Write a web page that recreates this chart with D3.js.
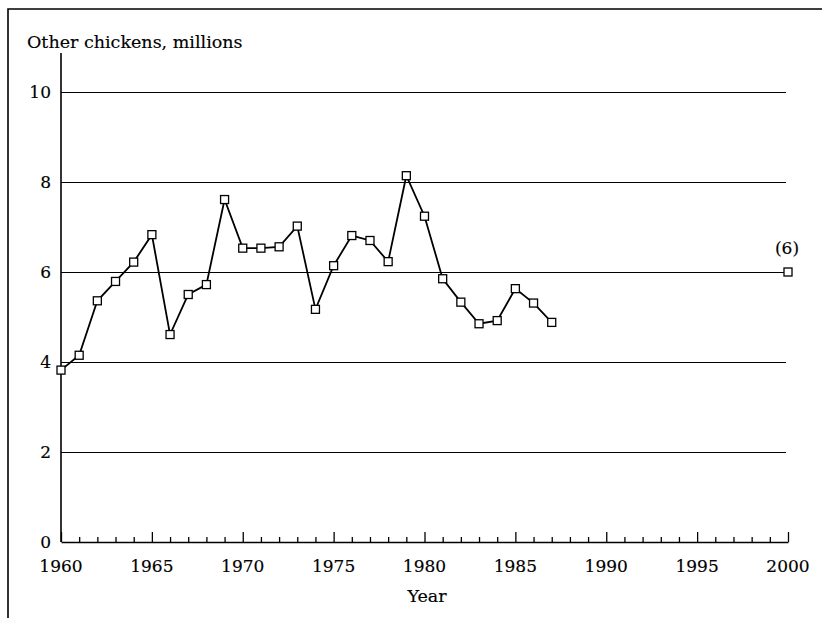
<!DOCTYPE html>
<html>
<head>
<meta charset="utf-8">
<script src="https://cdn.jsdelivr.net/npm/d3@7"></script>
<style>
  html, body { margin: 0; padding: 0; background: #fff; }
  svg text { font-family: "DejaVu Serif", "Liberation Serif", serif; fill: #000; stroke: #000; stroke-width: 0.15; }
</style>
</head>
<body>
<svg id="chart" width="822" height="618"></svg>
<script>
const years = [1960,1961,1962,1963,1964,1965,1966,1967,1968,1969,1970,1971,1972,1973,1974,1975,1976,1977,1978,1979,1980,1981,1982,1983,1984,1985,1986,1987];
const values = [3.82,4.15,5.36,5.79,6.22,6.83,4.61,5.50,5.72,7.61,6.53,6.53,6.56,7.02,5.17,6.14,6.81,6.70,6.23,8.14,7.24,5.85,5.33,4.85,4.92,5.63,5.31,4.88];
const projectionYear = [2000];
const projectionValue = [6];
const projectionLabel = ["(6)"];
const yTicks = [0,2,4,6,8,10];
const xTicks = [1960,1965,1970,1975,1980,1985,1990,1995,2000];
const titleText = "Other chickens, millions";
const xTitle = "Year";

const svg = d3.select("#chart");
const ink = "#000";

// frame
svg.append("path")
  .attr("d", "M8,618 L8,9 L822,9")
  .attr("fill", "none").attr("stroke", ink).attr("stroke-width", 1.6);

const x = d3.scaleLinear().domain([1960, 2000]).range([61, 788]);
const y = d3.scaleLinear().domain([0, 10]).range([542, 92]);

// gridlines
svg.append("g").selectAll("line").data(yTicks.filter(d => d > 0)).join("line")
  .attr("x1", x(1960)).attr("x2", 786)
  .attr("y1", d => Math.round(y(d)) + 0.5).attr("y2", d => Math.round(y(d)) + 0.5)
  .attr("stroke", ink).attr("stroke-width", 1.2);

// y axis line
svg.append("line").attr("x1", x(1960)).attr("x2", x(1960))
  .attr("y1", 53).attr("y2", y(0))
  .attr("stroke", ink).attr("stroke-width", 1.6);

// y labels
svg.append("g").selectAll("text").data(yTicks).join("text")
  .attr("x", 51).attr("y", d => y(d) + 6)
  .attr("text-anchor", "end").attr("font-size", 17)
  .text(d => d);

// x axis
const xAxis = d3.axisTop(x)
  .tickValues(d3.range(1960, 2001, 1))
  .tickSize(5).tickSizeOuter(0).tickFormat("");
const gx = svg.append("g").attr("transform", `translate(0,${y(0)})`).call(xAxis);
gx.select(".domain").attr("stroke", ink).attr("stroke-width", 1.6);
gx.selectAll(".tick line")
  .attr("stroke", ink).attr("stroke-width", 1.3)
  .attr("y2", d => (d % 5 === 0 ? -10 : -5));

// x tick labels
svg.append("g").selectAll("text").data(xTicks).join("text")
  .attr("x", d => x(d)).attr("y", 572)
  .attr("text-anchor", "middle").attr("font-size", 17)
  .text(d => d);

// titles
svg.append("text").attr("x", 27).attr("y", 48).attr("font-size", 17.5).text(titleText);
svg.append("text").attr("x", 427).attr("y", 602).attr("text-anchor", "middle").attr("font-size", 17.5).text(xTitle);

// line
const data = years.map((yr, i) => ({yr, v: values[i]}));
svg.append("path").datum(data)
  .attr("fill", "none").attr("stroke", ink).attr("stroke-width", 1.8)
  .attr("d", d3.line().x(d => x(d.yr)).y(d => y(d.v)));

// markers
const s = 8;
svg.append("g").selectAll("rect").data(data).join("rect")
  .attr("x", d => x(d.yr) - s/2).attr("y", d => y(d.v) - s/2)
  .attr("width", s).attr("height", s)
  .attr("fill", "#fff").attr("stroke", ink).attr("stroke-width", 1.3);

// projection
const proj = projectionYear.map((yr, i) => ({yr, v: projectionValue[i], label: projectionLabel[i]}));
svg.append("g").selectAll("rect").data(proj).join("rect")
  .attr("x", d => x(d.yr) - s/2).attr("y", d => y(d.v) - s/2)
  .attr("width", s).attr("height", s)
  .attr("fill", "#fff").attr("stroke", ink).attr("stroke-width", 1.3);
svg.append("g").selectAll("text").data(proj).join("text")
  .attr("x", d => x(d.yr) - 1).attr("y", d => y(d.v) - 18)
  .attr("text-anchor", "middle").attr("font-size", 17)
  .text(d => d.label);
</script>
</body>
</html>
